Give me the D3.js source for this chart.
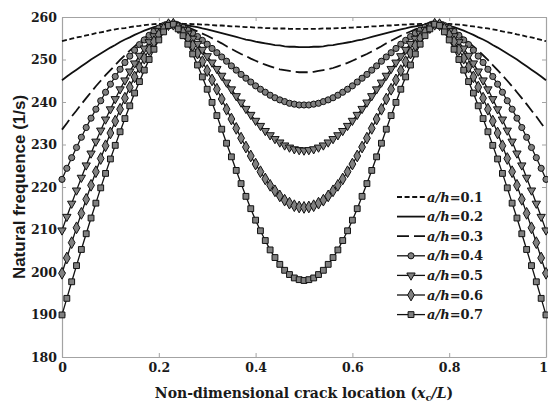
<!DOCTYPE html>
<html>
<head>
<meta charset="utf-8">
<script src="https://cdn.jsdelivr.net/npm/d3@7"></script>
<style>
  body { margin: 0; background: #fff; }
  svg { display: block; }
</style>
</head>
<body>
<svg id="chart" width="548" height="407"></svg>
<script>
// Non-dimensional crack location x_c/L
const crackPos = [
  0,0.01,0.02,0.03,0.04,0.05,0.06,0.07,0.08,0.09,
  0.1,0.11,0.12,0.13,0.14,0.15,0.16,0.17,0.18,0.19,
  0.2,0.21,0.22,0.23,0.24,0.25,0.26,0.27,0.28,0.29,
  0.3,0.31,0.32,0.33,0.34,0.35,0.36,0.37,0.38,0.39,
  0.4,0.41,0.42,0.43,0.44,0.45,0.46,0.47,0.48,0.49,
  0.5,0.51,0.52,0.53,0.54,0.55,0.56,0.57,0.58,0.59,
  0.6,0.61,0.62,0.63,0.64,0.65,0.66,0.67,0.68,0.69,
  0.7,0.71,0.72,0.73,0.74,0.75,0.76,0.77,0.78,0.79,
  0.8,0.81,0.82,0.83,0.84,0.85,0.86,0.87,0.88,0.89,
  0.9,0.91,0.92,0.93,0.94,0.95,0.96,0.97,0.98,0.99,1
];

// Natural frequency (1/s) for each crack depth ratio a/h
const freqAh01 = [
  254.3,254.6,254.9,255.2,255.4,255.7,255.9,256.2,256.4,256.6,
  256.9,257.1,257.3,257.4,257.6,257.8,257.9,258.1,258.2,258.3,
  258.4,258.4,258.5,258.5,258.5,258.4,258.4,258.3,258.3,258.2,
  258.2,258.1,258.0,258.0,257.9,257.8,257.8,257.7,257.6,257.6,
  257.5,257.5,257.4,257.4,257.3,257.3,257.3,257.2,257.2,257.2,
  257.2,
  257.2,257.2,257.2,257.3,257.3,257.3,257.4,257.4,257.5,257.5,
  257.6,257.6,257.7,257.8,257.8,257.9,258.0,258.0,258.1,258.2,
  258.2,258.3,258.3,258.4,258.4,258.5,258.5,258.5,258.4,258.4,
  258.3,258.2,258.1,257.9,257.8,257.6,257.4,257.3,257.1,256.9,
  256.6,256.4,256.2,255.9,255.7,255.4,255.2,254.9,254.6,254.3
];
const freqAh02 = [
  245.1,246.0,246.8,247.6,248.4,249.2,250.0,250.7,251.4,252.1,
  252.8,253.4,254.1,254.7,255.2,255.8,256.3,256.8,257.2,257.6,
  257.9,258.2,258.4,258.5,258.4,258.2,258.0,257.8,257.6,257.3,
  257.1,256.8,256.5,256.2,255.9,255.6,255.3,255.0,254.7,254.5,
  254.2,254.0,253.8,253.6,253.4,253.3,253.1,253.0,253.0,252.9,
  252.9,
  252.9,253.0,253.0,253.1,253.3,253.4,253.6,253.8,254.0,254.2,
  254.5,254.7,255.0,255.3,255.6,255.9,256.2,256.5,256.8,257.1,
  257.3,257.6,257.8,258.0,258.2,258.4,258.5,258.4,258.2,257.9,
  257.6,257.2,256.8,256.3,255.8,255.2,254.7,254.1,253.4,252.8,
  252.1,251.4,250.7,250.0,249.2,248.4,247.6,246.8,246.0,245.1
];
const freqAh03 = [
  233.5,235.0,236.6,238.0,239.5,240.9,242.3,243.7,245.0,246.3,
  247.5,248.7,249.9,251.0,252.1,253.1,254.1,255.0,255.9,256.7,
  257.3,257.9,258.4,258.5,258.2,257.9,257.6,257.1,256.6,256.1,
  255.6,255.0,254.4,253.8,253.1,252.5,251.9,251.3,250.8,250.2,
  249.7,249.2,248.8,248.4,248.0,247.7,247.5,247.3,247.1,247.0,
  247.0,
  247.0,247.1,247.3,247.5,247.7,248.0,248.4,248.8,249.2,249.7,
  250.2,250.8,251.3,251.9,252.5,253.1,253.8,254.4,255.0,255.6,
  256.1,256.6,257.1,257.6,257.9,258.2,258.5,258.4,257.9,257.3,
  256.7,255.9,255.0,254.1,253.1,252.1,251.0,249.9,248.7,247.5,
  246.3,245.0,243.7,242.3,240.9,239.5,238.0,236.6,235.0,233.5
];
const freqAh04 = [
  221.8,224.4,226.9,229.3,231.7,234.0,236.2,238.3,240.3,242.3,
  244.2,246.0,247.7,249.3,250.8,252.2,253.5,254.6,255.7,256.6,
  257.4,258.0,258.4,258.4,258.1,257.6,256.9,256.2,255.4,254.5,
  253.6,252.6,251.6,250.6,249.6,248.5,247.5,246.5,245.6,244.7,
  243.8,243.0,242.3,241.6,241.0,240.5,240.1,239.7,239.5,239.3,
  239.3,
  239.3,239.5,239.7,240.1,240.5,241.0,241.6,242.3,243.0,243.8,
  244.7,245.6,246.5,247.5,248.5,249.6,250.6,251.6,252.6,253.6,
  254.5,255.4,256.2,256.9,257.6,258.1,258.4,258.4,258.0,257.4,
  256.6,255.7,254.6,253.5,252.2,250.8,249.3,247.7,246.0,244.2,
  242.3,240.3,238.3,236.2,234.0,231.7,229.3,226.9,224.4,221.8
];
const freqAh05 = [
  209.8,213.0,216.1,219.2,222.2,225.1,227.9,230.7,233.3,235.9,
  238.3,240.7,243.0,245.1,247.2,249.1,250.9,252.6,254.1,255.5,
  256.7,257.7,258.3,258.4,257.8,257.0,256.1,254.9,253.7,252.3,
  250.8,249.3,247.8,246.2,244.6,243.0,241.4,239.9,238.4,237.0,
  235.6,234.4,233.2,232.2,231.3,230.5,229.8,229.3,228.9,228.7,
  228.6,
  228.7,228.9,229.3,229.8,230.5,231.3,232.2,233.2,234.4,235.6,
  237.0,238.4,239.9,241.4,243.0,244.6,246.2,247.8,249.3,250.8,
  252.3,253.7,254.9,256.1,257.0,257.8,258.4,258.3,257.7,256.7,
  255.5,254.1,252.6,250.9,249.1,247.2,245.1,243.0,240.7,238.3,
  235.9,233.3,230.7,227.9,225.1,222.2,219.2,216.1,213.0,209.8
];
const freqAh06 = [
  199.7,203.3,206.9,210.4,213.8,217.1,220.4,223.6,226.7,229.7,
  232.7,235.5,238.3,240.9,243.5,245.9,248.2,250.3,252.3,254.2,
  255.8,257.2,258.2,258.3,257.5,256.4,255.0,253.3,251.5,249.5,
  247.4,245.2,243.0,240.7,238.3,236.0,233.8,231.5,229.4,227.3,
  225.4,223.6,221.9,220.4,219.1,217.9,216.9,216.2,215.6,215.3,
  215.2,
  215.3,215.6,216.2,216.9,217.9,219.1,220.4,221.9,223.6,225.4,
  227.3,229.4,231.5,233.8,236.0,238.3,240.7,243.0,245.2,247.4,
  249.5,251.5,253.3,255.0,256.4,257.5,258.3,258.2,257.2,255.8,
  254.2,252.3,250.3,248.2,245.9,243.5,240.9,238.3,235.5,232.7,
  229.7,226.7,223.6,220.4,217.1,213.8,210.4,206.9,203.3,199.7
];
const freqAh07 = [
  189.9,193.8,197.7,201.5,205.3,209.0,212.7,216.2,219.8,223.2,
  226.6,229.8,233.0,236.1,239.1,242.1,244.8,247.5,250.0,252.4,
  254.6,256.5,258.0,258.3,257.2,255.6,253.6,251.3,248.7,245.9,
  243.0,239.9,236.8,233.6,230.3,227.1,223.9,220.8,217.8,214.9,
  212.2,209.7,207.4,205.2,203.4,201.8,200.4,199.4,198.6,198.2,
  198.0,
  198.2,198.6,199.4,200.4,201.8,203.4,205.2,207.4,209.7,212.2,
  214.9,217.8,220.8,223.9,227.1,230.3,233.6,236.8,239.9,243.0,
  245.9,248.7,251.3,253.6,255.6,257.2,258.3,258.0,256.5,254.6,
  252.4,250.0,247.5,244.8,242.1,239.1,236.1,233.0,229.8,226.6,
  223.2,219.8,216.2,212.7,209.0,205.3,201.5,197.7,193.8,189.9
];

const depthLabels = ["0.1", "0.2", "0.3", "0.4", "0.5", "0.6", "0.7"];
const xTicks = [0, 0.2, 0.4, 0.6, 0.8, 1];
const xTickLabels = ["0", "0.2", "0.4", "0.6", "0.8", "1"];
const yTicks = [180, 190, 200, 210, 220, 230, 240, 250, 260];

// drawing styles, one per crack depth
const series = [
  { label: depthLabels[0], values: freqAh01, dash: "5,2.6", width: 1.8, symbol: null },
  { label: depthLabels[1], values: freqAh02, dash: null, width: 1.8, symbol: null },
  { label: depthLabels[2], values: freqAh03, dash: "12,5", width: 1.8, symbol: null },
  { label: depthLabels[3], values: freqAh04, dash: null, width: 1.3, symbol: d3.symbolCircle, size: 30, rot: 0 },
  { label: depthLabels[4], values: freqAh05, dash: null, width: 1.3, symbol: d3.symbolTriangle, size: 30, rot: 180 },
  { label: depthLabels[5], values: freqAh06, dash: null, width: 1.3, symbol: d3.symbolDiamond, size: 40, rot: 0 },
  { label: depthLabels[6], values: freqAh07, dash: null, width: 1.3, symbol: d3.symbolSquare, size: 34, rot: 0 }
];

const svg = d3.select("#chart");
const x = d3.scaleLinear().domain([0, 1]).range([62, 546]);
const y = d3.scaleLinear().domain([180, 260]).range([357, 17]);

const tickFont = "DejaVu Serif";
const axisColor = "#a3a3a3";

function styleAxis(g) {
  g.selectAll(".domain").attr("stroke", axisColor).attr("stroke-width", 1.2);
  g.selectAll(".tick line").attr("stroke", axisColor).attr("stroke-width", 1);
  g.selectAll(".tick text")
    .attr("fill", "#1a1a1a")
    .attr("font-family", tickFont)
    .attr("font-weight", "bold")
    .attr("font-size", 12.5);
}

// box with inward ticks on all four sides
const xAxisG = svg.append("g")
  .attr("transform", `translate(0,${y(180)})`)
  .call(d3.axisBottom(x).tickValues(xTicks).tickFormat((d, i) => xTickLabels[i])
    .tickSizeInner(-4).tickSizeOuter(0).tickPadding(6))
  .call(styleAxis);
// keep the last label inside the page edge
xAxisG.selectAll(".tick text").filter(d => d === 1).attr("dx", -3);

svg.append("g")
  .attr("transform", `translate(0,${y(260)})`)
  .call(d3.axisTop(x).tickValues(xTicks).tickFormat("").tickSizeInner(-4).tickSizeOuter(0))
  .call(styleAxis);
svg.append("g")
  .attr("transform", `translate(${x(0)},0)`)
  .call(d3.axisLeft(y).tickValues(yTicks).tickSizeInner(-4).tickSizeOuter(0).tickPadding(5))
  .call(styleAxis);
svg.append("g")
  .attr("transform", `translate(${x(1)},0)`)
  .call(d3.axisRight(y).tickValues(yTicks).tickFormat("").tickSizeInner(-4).tickSizeOuter(0))
  .call(styleAxis);

const line = d3.line()
  .x((d, i) => x(crackPos[i]))
  .y(d => y(d));

const plot = svg.append("g");
series.forEach(s => {
  const g = plot.append("g");
  g.append("path")
    .attr("d", line(s.values))
    .attr("fill", "none")
    .attr("stroke", "#111")
    .attr("stroke-width", s.width)
    .attr("stroke-dasharray", s.dash);
  if (s.symbol) {
    const sym = d3.symbol().type(s.symbol).size(s.size);
    g.selectAll("path.mk")
      .data(s.values)
      .join("path")
      .attr("class", "mk")
      .attr("d", sym)
      .attr("transform", (d, i) => `translate(${x(crackPos[i])},${y(d)}) rotate(${s.rot})`)
      .attr("fill", "#808080")
      .attr("stroke", "#111")
      .attr("stroke-width", 1);
  }
});

// legend
const legend = svg.append("g").attr("transform", "translate(397,197)");
series.forEach((s, i) => {
  const row = legend.append("g").attr("transform", `translate(0,${i * 19.6})`);
  row.append("line")
    .attr("x1", 0).attr("x2", 28).attr("y1", 0).attr("y2", 0)
    .attr("stroke", "#111")
    .attr("stroke-width", s.width)
    .attr("stroke-dasharray", s.dash);
  if (s.symbol) {
    row.append("path")
      .attr("d", d3.symbol().type(s.symbol).size(s.size))
      .attr("transform", `translate(14,0) rotate(${s.rot})`)
      .attr("fill", "#808080")
      .attr("stroke", "#111")
      .attr("stroke-width", 1);
  }
  const t = row.append("text")
    .attr("x", 30).attr("y", 4.6)
    .attr("font-family", tickFont)
    .attr("font-weight", "bold")
    .attr("font-size", 13)
    .attr("fill", "#1a1a1a");
  t.append("tspan").attr("font-style", "italic").text("a/h");
  t.append("tspan").text("=" + s.label);
});

// axis titles
svg.append("text")
  .attr("transform", `translate(19,${(y(180) + y(260)) / 2}) rotate(-90)`)
  .attr("text-anchor", "middle")
  .attr("dominant-baseline", "central")
  .attr("font-family", "Liberation Sans")
  .attr("font-weight", "bold")
  .attr("font-size", 17)
  .attr("fill", "#1a1a1a")
  .text("Natural frequence (1/s)");

const xt = svg.append("text")
  .attr("x", x(0.5))
  .attr("y", 398)
  .attr("text-anchor", "middle")
  .attr("font-family", tickFont)
  .attr("font-weight", "bold")
  .attr("font-size", 14)
  .attr("fill", "#1a1a1a");
xt.append("tspan").text("Non-dimensional crack location (");
xt.append("tspan").attr("font-style", "italic").text("x");
xt.append("tspan").attr("font-size", 10).attr("dy", 3).text("c");
xt.append("tspan").attr("font-style", "italic").attr("dy", -3).text("/L");
xt.append("tspan").text(")");
</script>
</body>
</html>
